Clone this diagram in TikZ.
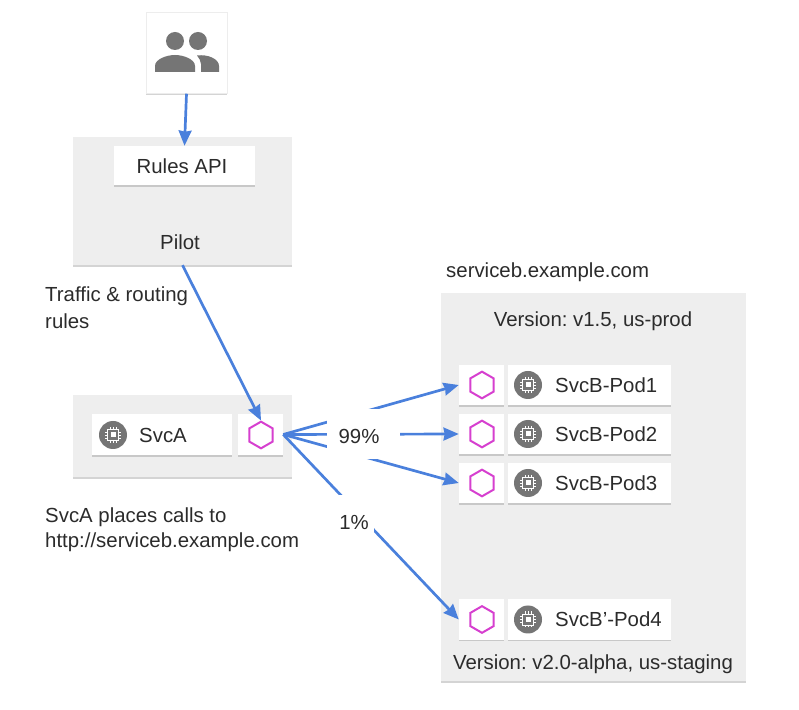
\documentclass[tikz,border=0pt]{standalone}
\usepackage{fontspec}
\setmainfont{Liberation Sans}
\usetikzlibrary{arrows.meta,shapes.geometric,shadows}
\definecolor{panelgray}{HTML}{EEEEEE}
\definecolor{icongray}{HTML}{757575}
\definecolor{flowblue}{HTML}{4A80DC}
\definecolor{hexpink}{HTML}{D63FCF}
\definecolor{inkgray}{HTML}{2B2B2B}
\tikzset{
	softshadow/.style={drop shadow={shadow xshift=0pt,shadow yshift=-1.3pt,opacity=.28,fill=black!60}},
	panel/.style={fill=panelgray,softshadow,inner sep=0pt},
	card/.style={fill=white,softshadow,inner sep=0pt},
	hexmark/.style={regular polygon,regular polygon sides=6,shape border rotate=30,draw=hexpink,line width=1.7pt,minimum size=0.8cm,inner sep=0pt},
	flow/.style={draw=flowblue,line width=2.3pt,-{Stealth[length=13pt,width=11pt,inset=1pt]}},
	txt/.style={font=\fontsize{17.4}{20}\selectfont,text=inkgray,inner sep=0pt},
	gapbox/.style={fill=white,inner sep=0pt},
	chip/.pic={
		\fill[icongray] (0,0) circle (14);
		\draw[white,line width=.8pt] (-5.5,-5.5) rectangle (5.5,5.5);
		\fill[white] (-2.5,-2.5) rectangle (2.5,2.5);
		\foreach \t in {-3,0,3} {
			\draw[white,line width=.6pt] (\t,-5.5)--(\t,-8);
			\draw[white,line width=.6pt] (\t,5.5)--(\t,8);
			\draw[white,line width=.6pt] (-5.5,\t)--(-8,\t);
			\draw[white,line width=.6pt] (5.5,\t)--(8,\t);
		}
	}
}
\frenchspacing
\begin{document}
\begin{tikzpicture}[x=0.03cm,y=-0.03cm]
	\useasboundingbox (0,0) rectangle (799,710);
	% boxes
	\node[card,draw=black!7,line width=.4pt,minimum width=2.43cm,minimum height=2.43cm] (usersbox) at (186.5,53) {};
	\node[panel,minimum width=6.57cm,minimum height=3.84cm] (pilotbox) at (182.5,201) {};
	\node[card,minimum width=4.23cm,minimum height=1.17cm] (rulesbox) at (184.5,165.5) {};
	\node[txt] (rulestext) at (182,166) {Rules API};
	\node[txt] (pilottext) at (180,242) {Pilot};
	\node[panel,minimum width=6.57cm,minimum height=2.46cm] (svcagroup) at (182.5,436) {};
	\node[card,minimum width=4.2cm,minimum height=1.23cm] (svcacard) at (162,434.5) {};
	\node[card,minimum width=1.35cm,minimum height=1.23cm] (hexcella) at (260.5,434.5) {};
	\node[hexmark] (hexa) at (261,435) {};
	\pic at (113,435) {chip};
	\node[txt,anchor=west] (svcatext) at (139,435) {SvcA};
	\node[panel,minimum width=9.15cm,minimum height=11.64cm] (svcbgroup) at (593.5,487) {};
	\node[txt] (v1text) at (593,321) {Version: v1.5, us-prod};
	\node[txt] (v2text) at (593,664) {Version: v2.0-alpha, us-staging};
	\node[txt,anchor=west] (hosttext) at (446,272) {serviceb.example.com};
	% pods
	\foreach \n/\y/\lab in {1/385/SvcB-Pod1,2/434/SvcB-Pod2,3/483/SvcB-Pod3,4/619.5/SvcB’-Pod4} {
		\node[card,minimum width=1.35cm,minimum height=1.2cm] (hexcell\n) at (481.5,\y) {};
		\node[card,minimum width=4.89cm,minimum height=1.2cm] (podcard\n) at (589.5,\y) {};
		\node[hexmark] (hex\n) at (482,\y) {};
		\pic at (528,\y) {chip};
		\node[txt,anchor=west] (podtext\n) at (555,\y) {\lab};
	}
	% arrows
	\draw[flow] (usersbox.south)--(rulesbox.north);
	\draw[flow] (pilotbox.south)--(hexa.north);
	\draw[flow] (hexcella.east)--(hexcell1.west);
	\draw[flow] (hexcella.east)--(hexcell2.west);
	\draw[flow] (hexcella.east)--(hexcell3.west);
	\draw[flow] (hexcella.east)--(hexcell4.west);
	% labels over the arrows
	\node[gapbox,minimum width=2.19cm,minimum height=1.5cm] (gapbig) at (363.5,434) {};
	\node[txt] (bigshare) at (359,436) {99\%};
	\node[gapbox,minimum width=1.2cm,minimum height=1.5cm] (gapsmall) at (354,520) {};
	\node[txt] (smallshare) at (354,522) {1\%};
	\node[txt,anchor=west] (rulesnote1) at (45,296) {Traffic \& routing};
	\node[txt,anchor=west] (rulesnote2) at (45,321) {rules};
	\node[txt,anchor=west] (callnote1) at (45,517) {SvcA places calls to};
	\node[txt,anchor=west] (callnote2) at (45,542) {http://serviceb.example.com};
	% people icon
	\fill[icongray] (175,41) circle (9);
	\fill[icongray] (198,41) circle (9);
	\fill[icongray] (155,72)--(155,66) .. controls (155,59) and (167,55) .. (175,55) .. controls (183,55) and (195,59) .. (195,66)--(195,72)--cycle;
	\fill[icongray] (201,72)--(201,64) .. controls (201,61) and (199,58) .. (197,55.5) .. controls (208,54) and (219,59) .. (219,66)--(219,72)--cycle;
\end{tikzpicture}
\end{document}
